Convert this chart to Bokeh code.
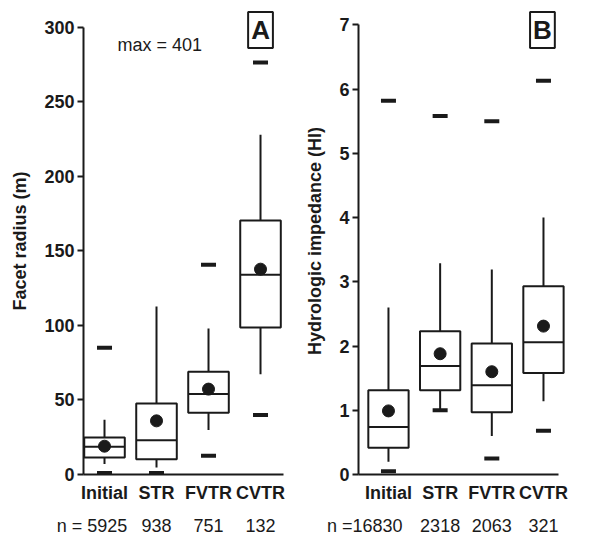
import numpy as np
from bokeh.plotting import figure
from bokeh.layouts import row
from bokeh.models import Range1d, FixedTicker, LinearAxis, Label
from bokeh.embed import file_html
from bokeh.resources import INLINE

FONT = "Liberation Sans"
INK = "#1a1a1a"

categories = ["Initial", "STR", "FVTR", "CVTR"]
positions = [1, 2, 3, 4]

# Panel A: facet radius (m)
a_n = [5925, 938, 751, 132]
a_q1 = [11.4, 10.3, 41.4, 98.7]
a_median = [18.6, 23.0, 54.0, 134.0]
a_q3 = [24.8, 47.6, 69.0, 170.5]
a_mean = [19.0, 36.0, 57.3, 137.8]
a_whisker_low = [7.0, 4.7, 29.8, 67.3]
a_whisker_high = [36.7, 112.7, 98.0, 228.0]
a_min = [1.0, 1.0, 12.5, 40.0]
a_max = [85.0, 401.0, 140.7, 276.5]
a_ticks = [0, 50, 100, 150, 200, 250, 300]

# Panel B: hydrologic impedance (HI)
b_n = [16830, 2318, 2063, 321]
b_q1 = [0.415, 1.31, 0.97, 1.58]
b_median = [0.74, 1.69, 1.39, 2.06]
b_q3 = [1.31, 2.23, 2.04, 2.93]
b_mean = [0.99, 1.88, 1.60, 2.31]
b_whisker_low = [0.20, 1.01, 0.60, 1.14]
b_whisker_high = [2.60, 3.29, 3.19, 4.00]
b_min = [0.05, 1.00, 0.25, 0.68]
b_max = [5.82, 5.58, 5.50, 6.13]
b_ticks = [0, 1, 2, 3, 4, 5, 6, 7]


def make_panel(q1, med, q3, mean, wlo, whi, mn, mx, ns, ticks, ylabel,
               xr, yr, ybounds, xbounds, fw, fh, bl, br, bt, bb, letter, letter_xy,
               first_n_shift, first_n_sep):
    p = figure(output_backend="svg", toolbar_location=None,
               frame_width=fw, frame_height=fh,
               min_border_left=bl, min_border_right=br,
               min_border_top=bt, min_border_bottom=bb,
               x_range=Range1d(*xr), y_range=Range1d(*yr))
    p.outline_line_color = None
    p.xgrid.visible = False
    p.ygrid.visible = False
    p.background_fill_color = "white"
    p.border_fill_color = "white"

    xs = np.array(positions, dtype=float)
    w = 0.78

    p.segment(x0=xs, y0=np.array(q3), x1=xs, y1=np.array(whi), line_color=INK, line_width=2)
    p.segment(x0=xs, y0=np.array(wlo), x1=xs, y1=np.array(q1), line_color=INK, line_width=2)
    p.vbar(x=xs, width=w, bottom=q1, top=q3, fill_color="white",
           line_color=INK, line_width=2)
    p.segment(x0=xs - w / 2, y0=med, x1=xs + w / 2, y1=med, line_color=INK, line_width=2)
    p.scatter(xs, mean, size=12, color=INK)
    p.scatter(xs, mn, marker="dash", size=15, line_width=4, line_color=INK)
    p.scatter(xs, mx, marker="dash", size=15, line_width=4, line_color=INK)

    ya = p.yaxis[0]
    ya.ticker = FixedTicker(ticks=ticks)
    ya.bounds = ybounds
    ya.axis_label = ylabel
    ya.axis_label_text_font = FONT
    ya.axis_label_text_font_style = "bold"
    ya.axis_label_text_font_size = "18px"
    ya.axis_label_standoff = 11
    ya.major_label_text_font = FONT
    ya.major_label_text_font_style = "bold"
    ya.major_label_text_font_size = "18px"
    ya.major_label_standoff = 3
    ya.major_tick_out = 6
    ya.major_tick_in = 0
    ya.minor_tick_line_color = None
    ya.axis_line_width = 2
    ya.major_tick_line_width = 2
    ya.axis_line_color = INK
    ya.major_tick_line_color = INK
    ya.major_label_text_color = INK
    ya.axis_label_text_color = INK

    xa = p.xaxis[0]
    xa.ticker = FixedTicker(ticks=positions)
    xa.major_label_overrides = {pos: c for pos, c in zip(positions, categories)}
    xa.major_label_text_font = FONT
    xa.major_label_text_font_style = "bold"
    xa.major_label_text_font_size = "18px"
    xa.major_label_text_color = INK
    xa.major_label_standoff = 8
    xa.major_tick_line_color = None
    xa.major_tick_out = 0
    xa.major_tick_in = 0
    xa.minor_tick_line_color = None
    xa.axis_line_width = 2
    xa.axis_line_color = INK
    xa.bounds = xbounds

    # row of sample counts; the first carries the "n =" prefix, so its
    # label is centred a little to the left of its category
    n_ticks = [positions[0] - first_n_shift] + positions[1:]
    n_texts = ["n =" + first_n_sep + str(ns[0])] + [str(n) for n in ns[1:]]
    na = LinearAxis(ticker=FixedTicker(ticks=n_ticks),
                    major_label_overrides=dict(zip(n_ticks, n_texts)))
    na.axis_line_color = None
    na.major_tick_line_color = None
    na.minor_tick_line_color = None
    na.major_tick_out = 0
    na.major_tick_in = 0
    na.major_label_text_font = FONT
    na.major_label_text_font_size = "18px"
    na.major_label_text_color = INK
    na.major_label_standoff = 10
    p.add_layout(na, "below")

    p.add_layout(Label(x=letter_xy[0], y=letter_xy[1], text=letter,
                       text_align="center", text_baseline="middle",
                       text_font=FONT, text_font_style="bold", text_font_size="26px",
                       text_color=INK, padding=3,
                       border_line_color=INK, border_line_width=2,
                       background_fill_color="white"))
    return p


pa = make_panel(a_q1, a_median, a_q3, a_mean, a_whisker_low, a_whisker_high,
                a_min, a_max, a_n, a_ticks, "Facet radius (m)",
                (0.596, 4.442), (0, 313.4), (0, 300), (0.596, 4.442),
                200, 467, 83, 15, 7, 62, "A", (4.0, 298.3), 0.24, " ")
pa.add_layout(Label(x=1.25, y=288, text="max = 401", text_align="left",
                    text_baseline="middle", text_font=FONT, text_font_size="18px",
                    text_color=INK))

pb = make_panel(b_q1, b_median, b_q3, b_mean, b_whisker_low, b_whisker_high,
                b_min, b_max, b_n, b_ticks, "Hydrologic impedance (HI)",
                (0.42, 4.523), (0, 7.27), (0, 7), (0.42, 4.29),
                212, 467, 60, 23, 7, 62, "B", (3.98, 6.92), 0.46, "")

layout = row(pa, pb)
open("out.html", "w").write(file_html(layout, INLINE))
